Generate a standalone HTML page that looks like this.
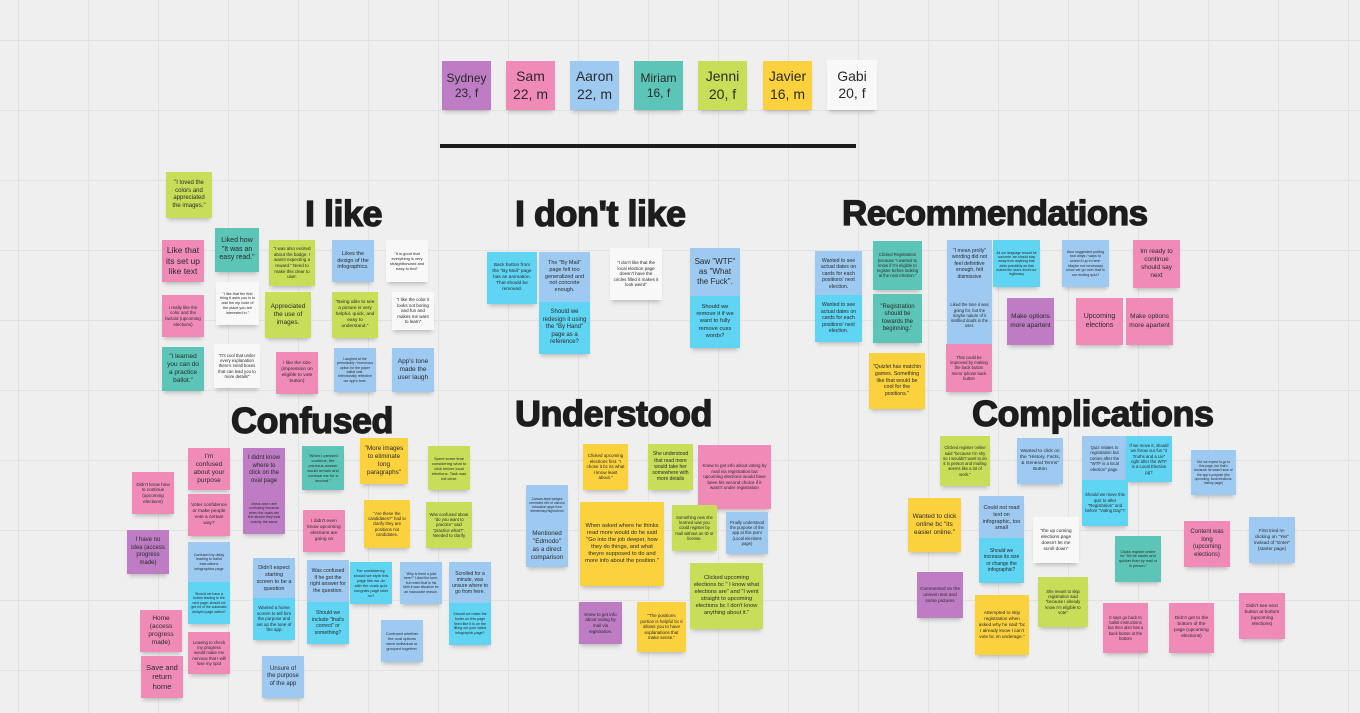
<!DOCTYPE html>
<html><head><meta charset="utf-8"><style>
html,body{margin:0;padding:0}
body{width:1360px;height:713px;position:relative;overflow:hidden;background-color:#efefef;
background-image:linear-gradient(to right,#e2e2e2 1px,transparent 1px),linear-gradient(to bottom,#e2e2e2 1px,transparent 1px);
background-size:70px 70px;background-position:18px 40px;font-family:"Liberation Sans",sans-serif}
.n{position:absolute;display:flex;align-items:center;justify-content:center;text-align:center;box-sizing:border-box;padding:2px 3px;line-height:1.25;color:#2a2a2a;box-shadow:0 4px 4px -2px rgba(0,0,0,0.22)}
.p{background:#f08bb8}.u{background:#bd7cc4}.b{background:#9ecaf2}.t{background:#5cc5b7}.l{background:#c8de58}.y{background:#fbd23e}.w{background:#f8f8f8}.c{background:#5fd4f3}
.h{position:absolute;font-weight:bold;color:#1d1d1d;white-space:nowrap;line-height:1;letter-spacing:-0.5px;-webkit-text-stroke:1.3px #1d1d1d}
</style></head><body>

<div class="n u" style="left:442px;top:61px;width:49px;height:49px;font-size:12px">Sydney<br>23, f</div>
<div class="n p" style="left:506px;top:61px;width:49px;height:49px;font-size:14px">Sam<br>22, m</div>
<div class="n b" style="left:570px;top:61px;width:49px;height:49px;font-size:14px">Aaron<br>22, m</div>
<div class="n t" style="left:634px;top:61px;width:49px;height:49px;font-size:12px">Miriam<br>16, f</div>
<div class="n l" style="left:698px;top:61px;width:49px;height:49px;font-size:14px">Jenni<br>20, f</div>
<div class="n y" style="left:763px;top:61px;width:49px;height:49px;font-size:14px">Javier<br>16, m</div>
<div class="n w" style="left:827px;top:60px;width:50px;height:50px;font-size:14px">Gabi<br>20, f</div>
<div style="position:absolute;left:440px;top:144px;width:416px;height:4px;background:#1d1d1d"></div>

<div class="h" style="left:305px;top:196px;font-size:36px">I like</div>
<div class="h" style="left:515px;top:196px;font-size:36px">I don't like</div>
<div class="h" style="left:842px;top:196px;font-size:35px">Recommendations</div>
<div class="h" style="left:231px;top:403px;font-size:36px">Confused</div>
<div class="h" style="left:515px;top:396px;font-size:36px">Understood</div>
<div class="h" style="left:972px;top:396px;font-size:36px">Complications</div>

<!-- I like -->
<div class="n l" style="left:166px;top:172px;width:46px;height:46px;font-size:6px">"I loved the colors and appreciated the images."</div>
<div class="n p" style="left:162px;top:240px;width:42px;height:42px;font-size:8.5px">Like that its set up like text</div>
<div class="n t" style="left:215px;top:228px;width:44px;height:44px;font-size:7px">Liked how "It was an easy read."</div>
<div class="n l" style="left:269px;top:240px;width:46px;height:46px;font-size:4.5px">"I was also excited about the badge. I wasnt expecting a reward." Need to make this clear to user.</div>
<div class="n b" style="left:332px;top:240px;width:42px;height:42px;font-size:5.5px">Likes the design of the infographics.</div>
<div class="n w" style="left:386px;top:240px;width:42px;height:42px;font-size:4px">"It is good that everything is very straightforward and easy to find"</div>
<div class="n p" style="left:162px;top:295px;width:42px;height:42px;font-size:4.5px">I really like the color and the factoid (upcoming elections)</div>
<div class="n w" style="left:216px;top:282px;width:43px;height:43px;font-size:3.8px">"I like that the first thing it asks you is to add the zip code of the place you are interested in."</div>
<div class="n l" style="left:265px;top:292px;width:46px;height:46px;font-size:6.5px">Appreciated the use of images.</div>
<div class="n l" style="left:332px;top:292px;width:46px;height:46px;font-size:4.8px">"Being able to see a picture is very helpful, quick, and easy to understand."</div>
<div class="n w" style="left:392px;top:292px;width:42px;height:38px;font-size:4.5px">"I like the color it looks not boring and fun and makes me want to learn"</div>
<div class="n t" style="left:162px;top:347px;width:42px;height:44px;font-size:6.5px">"I learned you can do a practice ballot."</div>
<div class="n w" style="left:214px;top:344px;width:46px;height:44px;font-size:4.3px">"It's cool that under every explanation there's small boxes that can lead you to more details"</div>
<div class="n p" style="left:276px;top:352px;width:42px;height:42px;font-size:4.8px">I like the size (impression on eligible to vote button)</div>
<div class="n b" style="left:334px;top:348px;width:42px;height:44px;font-size:3.5px">Laughed at the periodically / humorous option for the paper ballot cost. Intentionally reflective our app's tone.</div>
<div class="n b" style="left:392px;top:348px;width:42px;height:44px;font-size:6.5px">App's tone made the user laugh</div>

<!-- I don't like -->
<div class="n c" style="left:487px;top:252px;width:50px;height:52px;font-size:4.8px">Back button from the "By Mail" page has an animation. That should be removed.</div>
<div class="n b" style="left:539px;top:252px;width:51px;height:50px;font-size:5.5px">The "By Mail" page felt too generalized and not concrete enough.</div>
<div class="n c" style="left:539px;top:302px;width:51px;height:52px;font-size:6px">Should we redesign it using the "By Hand" page as a reference?</div>
<div class="n w" style="left:610px;top:248px;width:52px;height:52px;font-size:4.5px">"I don't like that the local election page doesn't have the circles filled it makes it look weird"</div>
<div class="n b" style="left:690px;top:248px;width:50px;height:48px;font-size:8px">Saw "WTF" as "What the Fuck".</div>
<div class="n c" style="left:690px;top:296px;width:50px;height:52px;font-size:5.8px">Should we remove it if we want to fully remove cuss words?</div>

<!-- Recommendations -->
<div class="n b" style="left:815px;top:251px;width:47px;height:46px;font-size:5.2px">Wanted to see actual dates on cards for each positions' next election.</div>
<div class="n c" style="left:815px;top:295px;width:47px;height:47px;font-size:5.2px">Wanted to see actual dates on cards for each positions' next election.</div>
<div class="n t" style="left:873px;top:241px;width:49px;height:49px;font-size:4.2px">Clicked Registration because "I wanted to know if I'm eligible to register before looking at the next election."</div>
<div class="n t" style="left:873px;top:294px;width:49px;height:49px;font-size:6px">"Registration should be towards the beginning."</div>
<div class="n y" style="left:869px;top:353px;width:56px;height:56px;font-size:5.3px">"Quizlet has matchin games. Something like that would be cool for the positions."</div>
<div class="n b" style="left:947px;top:240px;width:45px;height:48px;font-size:5.2px">"I mean prolly" wording did not feel definitive enough, felt dismissive</div>
<div class="n b" style="left:947px;top:287px;width:45px;height:57px;font-size:4.2px">Liked the tone it was going for, but the maybe nature of it instilled doubt in the user.</div>
<div class="n c" style="left:993px;top:240px;width:47px;height:47px;font-size:3.4px">All our language should be concrete, we should stay away from anything that adds possibility as that makes the users doubt our legitimacy</div>
<div class="n p" style="left:946px;top:344px;width:46px;height:48px;font-size:4.2px">That could be improved by making the back button mirror iphone back button</div>
<div class="n u" style="left:1007px;top:298px;width:47px;height:47px;font-size:6.5px">Make options more apartent</div>
<div class="n b" style="left:1062px;top:240px;width:47px;height:47px;font-size:3.7px">Also suggested putting fool ways / ways to screw it up in here. Maybe not necessary since we go over that in our ending quiz?</div>
<div class="n p" style="left:1133px;top:240px;width:47px;height:48px;font-size:6.5px">Im ready to continue should say next</div>
<div class="n p" style="left:1076px;top:298px;width:47px;height:47px;font-size:7px">Upcoming elections</div>
<div class="n p" style="left:1126px;top:298px;width:47px;height:47px;font-size:6.5px">Make options more apartent</div>

<!-- Confused -->
<div class="n p" style="left:132px;top:472px;width:42px;height:42px;font-size:4.6px">Didn't know how to continue (upcoming elections)</div>
<div class="n p" style="left:188px;top:448px;width:42px;height:42px;font-size:6.5px">I'm confused about your purpose</div>
<div class="n p" style="left:188px;top:494px;width:42px;height:42px;font-size:4.8px">Voter confidence or make people vote a certain way?</div>
<div class="n u" style="left:243px;top:448px;width:42px;height:44px;font-size:6px">I didnt know where to click on the oval page</div>
<div class="n u" style="left:243px;top:492px;width:42px;height:42px;font-size:3.6px">check and x are confusing because when the ovals are first shown they look exactly the same</div>
<div class="n t" style="left:302px;top:446px;width:42px;height:44px;font-size:4px">"When I pressed continue, the previous answer would remain and confuse me for a second."</div>
<div class="n y" style="left:360px;top:438px;width:48px;height:46px;font-size:6.3px">"More images to eliminate long paragraphs"</div>
<div class="n l" style="left:428px;top:446px;width:42px;height:44px;font-size:4px">Spent some time considering what to click before local elections. Task was not clear.</div>
<div class="n u" style="left:127px;top:530px;width:42px;height:44px;font-size:6px">I have no idea (access progress made)</div>
<div class="n p" style="left:303px;top:510px;width:42px;height:42px;font-size:4.8px">I didn't even know upcoming elections are going on</div>
<div class="n y" style="left:364px;top:500px;width:46px;height:48px;font-size:4.3px">"Are these the candidates?" had to clarify they are positions not candidates.</div>
<div class="n l" style="left:426px;top:502px;width:46px;height:46px;font-size:4.3px">Was confused about "do you want to practice" said "practice what?". Needed to clarify</div>
<div class="n b" style="left:188px;top:542px;width:42px;height:40px;font-size:3.7px">Confused by delay leading to ballot instructions infographics page</div>
<div class="n c" style="left:188px;top:582px;width:42px;height:42px;font-size:3.5px">Should we have a button leading to the next page, should we get rid of the automatic delayed page switch?</div>
<div class="n b" style="left:253px;top:558px;width:42px;height:42px;font-size:5.5px">Didn't expect starting screen to be a question</div>
<div class="n c" style="left:253px;top:598px;width:42px;height:42px;font-size:4.5px">Wanted a home screen to tell him the purpose and set up the tone of the app</div>
<div class="n b" style="left:307px;top:560px;width:42px;height:42px;font-size:5.2px">Was confused if he got the right answer for the question.</div>
<div class="n c" style="left:307px;top:602px;width:42px;height:42px;font-size:5.2px">Should we include "that's correct" or something?</div>
<div class="n c" style="left:350px;top:562px;width:42px;height:42px;font-size:4px">For consistency, should we style this page like we do with the ovals quiz congrats page later on?</div>
<div class="n b" style="left:400px;top:562px;width:42px;height:42px;font-size:3.5px">"Why is there a joke here?" Liked the tone, but noted that in his faith it was situation for an inaccurate reason.</div>
<div class="n b" style="left:449px;top:562px;width:42px;height:42px;font-size:5px">Scrolled for a minute, was unsure where to go from here.</div>
<div class="n c" style="left:449px;top:603px;width:42px;height:42px;font-size:3.7px">Should we make the footer on this page fixed like it is on the filling out your ballot infographic page?</div>
<div class="n p" style="left:140px;top:610px;width:42px;height:42px;font-size:6.5px">Home (access progress made)</div>
<div class="n p" style="left:188px;top:632px;width:42px;height:42px;font-size:4.3px">Leaving to check my progress would make me nervous that I will lose my spot</div>
<div class="n p" style="left:141px;top:656px;width:42px;height:42px;font-size:7.5px">Save and return home</div>
<div class="n b" style="left:381px;top:620px;width:42px;height:42px;font-size:4px">Confused whether the oval options were individual or grouped together.</div>
<div class="n b" style="left:262px;top:656px;width:42px;height:42px;font-size:6px">Unsure of the purpose of the app</div>

<!-- Understood -->
<div class="n y" style="left:583px;top:444px;width:45px;height:46px;font-size:4.5px">Clicked upcoming elections first. "I chose it bc its what I know least about."</div>
<div class="n l" style="left:648px;top:444px;width:45px;height:46px;font-size:5px">She understood that read more would take her somewhere with more details</div>
<div class="n p" style="left:698px;top:445px;width:73px;height:64px;font-size:4.5px">Knew to get info about voting by mail via registration but upcoming elections would have been his second choice if it wasn't under registration</div>
<div class="n b" style="left:526px;top:485px;width:42px;height:40px;font-size:3.3px">Canvas-style badges reminded him of various education apps from elementary/highschool</div>
<div class="n b" style="left:526px;top:525px;width:42px;height:42px;font-size:6.3px">Mentioned "Edmodo" as a direct comparison</div>
<div class="n y" style="left:580px;top:502px;width:84px;height:84px;font-size:5.7px">When asked where he thinks read more would do he said "Go into the job deeper, how they do things, and what theyre supposed to do and more info about the position."</div>
<div class="n l" style="left:672px;top:505px;width:45px;height:46px;font-size:4.2px">Something new she learned was you could register by mail without an ID or license.</div>
<div class="n b" style="left:726px;top:512px;width:42px;height:42px;font-size:4.2px">Finally understood the purpose of the app at this point (Local elections page)</div>
<div class="n l" style="left:690px;top:563px;width:73px;height:66px;font-size:5.7px">Clicked upcoming elections bc " I know what elections are" and "I went straight to upcoming elections bc I don't know anything about it."</div>
<div class="n u" style="left:579px;top:602px;width:43px;height:42px;font-size:4.5px">Knew to get info about voting by mail via registration.</div>
<div class="n y" style="left:637px;top:602px;width:49px;height:50px;font-size:4.5px">"The positions portion is helpful bc it allows you to have explanations that make sense."</div>

<!-- Complications -->
<div class="n l" style="left:940px;top:436px;width:50px;height:50px;font-size:4.2px">Clicked register online said "because I'm shy so I wouldn't want to do it in person and mailing seems like a lot of work."</div>
<div class="n b" style="left:1017px;top:438px;width:46px;height:46px;font-size:4.8px">Wanted to click on the "History, Facts, &amp; General Terms" Button</div>
<div class="n b" style="left:1082px;top:436px;width:45px;height:45px;font-size:4.3px">Quiz relates to registration but comes after the "WTF is a local election" page.</div>
<div class="n c" style="left:1126px;top:436px;width:46px;height:46px;font-size:4.3px">If we move it, should we throw our fun "2 Truths and a Lie" right after the WTF is a Local Election pg?</div>
<div class="n c" style="left:1082px;top:480px;width:46px;height:46px;font-size:4.3px">Should we move this quiz to after "Registration" and before "Voting Day"?</div>
<div class="n b" style="left:1191px;top:450px;width:45px;height:45px;font-size:3.3px">Did not expect to go to this page, but that's because he wasn't sure of the app's purpose (the upcoming, local elections, history page)</div>
<div class="n y" style="left:908px;top:498px;width:53px;height:54px;font-size:6.5px">Wanted to click online bc "its easier online."</div>
<div class="n b" style="left:979px;top:496px;width:45px;height:45px;font-size:5.5px">Could not read text on infographic, too small</div>
<div class="n c" style="left:979px;top:538px;width:45px;height:45px;font-size:5px">Should we increase its size or change the infographic?</div>
<div class="n w" style="left:1033px;top:517px;width:46px;height:46px;font-size:4.7px">"the up coming elections page doesn't let me scroll down"</div>
<div class="n t" style="left:1115px;top:536px;width:46px;height:46px;font-size:3.8px">Clicks register online bc "it'd be easier and quicker than by mail or in person."</div>
<div class="n p" style="left:1184px;top:521px;width:46px;height:46px;font-size:6px">Content was long (upcoming elections)</div>
<div class="n b" style="left:1249px;top:517px;width:46px;height:46px;font-size:4.7px">First tried re-clicking on "Yes" instead of "Enter" (starter page)</div>
<div class="n u" style="left:917px;top:572px;width:46px;height:46px;font-size:4.7px">Commented on the uneven text and some pictures</div>
<div class="n l" style="left:1038px;top:577px;width:50px;height:50px;font-size:4.2px">She meant to skip registration said "because I already know I'm eligible to vote"</div>
<div class="n y" style="left:975px;top:595px;width:54px;height:60px;font-size:4.7px">Attempted to skip registration when asked why he said "bc I already know I can't vote bc im underage."</div>
<div class="n p" style="left:1103px;top:603px;width:45px;height:50px;font-size:4.2px">It says go back to ballot instructions but then also has a back button at the bottom</div>
<div class="n p" style="left:1169px;top:603px;width:45px;height:50px;font-size:4.8px">Didn't get to the bottom of the page (upcoming elections)</div>
<div class="n p" style="left:1239px;top:593px;width:46px;height:46px;font-size:4.8px">Didn't see next button at bottom (upcoming elections)</div>

</body></html>
